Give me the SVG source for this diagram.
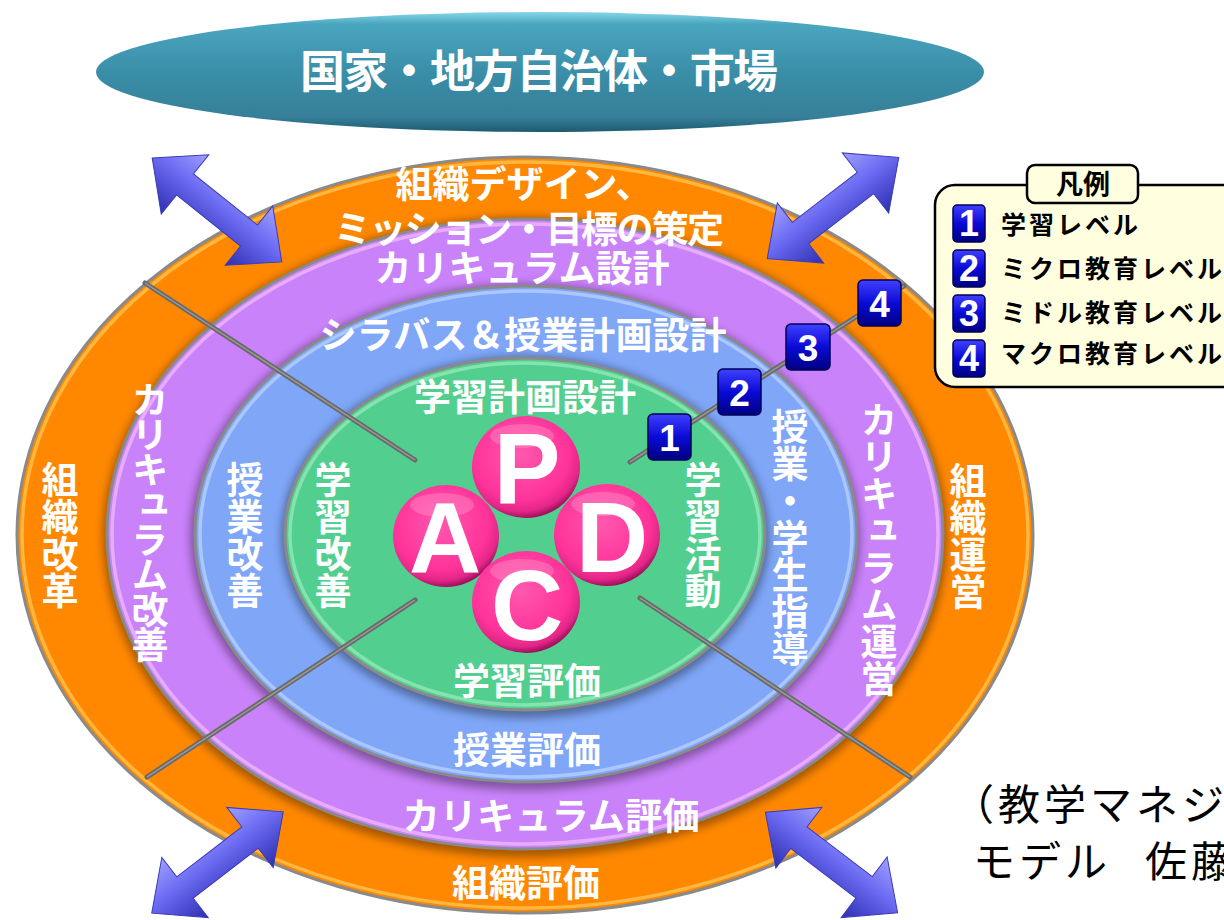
<svg xmlns="http://www.w3.org/2000/svg" width="1224" height="920" viewBox="0 0 1224 920">
<defs>
  <style>
    .lbl{font-family:"Noto Sans CJK JP","Noto Sans",sans-serif;font-weight:700;fill:#ffffff;text-anchor:middle;font-size:37px}
    .vt{font-family:"Noto Sans CJK JP","Noto Sans",sans-serif;font-weight:700;fill:#ffffff;font-size:37px;writing-mode:vertical-rl;text-anchor:start}
    .ring{stroke:#8a8a8a;stroke-width:3}
    .hl{fill:none;stroke-width:3.5;opacity:0.85}
    .shadow{fill:#000;opacity:0.35;filter:url(#blur4)}
    .conn{stroke:#6a6a6a;stroke-width:5;stroke-linecap:round;fill:none}
    .connhl{stroke:#9c9c9c;stroke-width:1.4;fill:none}
    .ball{fill:url(#ball)}
    .letter{font-family:"Liberation Sans",Arial,sans-serif;font-weight:700;font-size:100px;fill:#ffffff;text-anchor:middle}
    .numbox{fill:url(#numG);stroke:#00005a;stroke-width:1.5}
    .num{font-family:"Liberation Sans",Arial,sans-serif;font-weight:700;fill:#ffffff;text-anchor:middle}
    .leg{font-family:"Noto Sans CJK JP","Noto Sans",sans-serif;font-weight:700;font-size:25px;letter-spacing:3px;fill:#000}
    .note{font-family:"Noto Sans CJK JP","Noto Sans",sans-serif;font-weight:400;font-size:42px;letter-spacing:4px;fill:#000}
  </style>
  <linearGradient id="topG" x1="0" y1="0" x2="0" y2="1">
    <stop offset="0" stop-color="#86d6ea"/>
    <stop offset="0.1" stop-color="#4aa6bf"/>
    <stop offset="0.5" stop-color="#3a8ea8"/>
    <stop offset="0.88" stop-color="#367f98"/>
    <stop offset="1" stop-color="#1d5a70"/>
  </linearGradient>
  <radialGradient id="ball" cx="0.45" cy="0.38" r="0.62">
    <stop offset="0" stop-color="#ff58ae"/>
    <stop offset="0.72" stop-color="#ff3399"/>
    <stop offset="0.9" stop-color="#e22687"/>
    <stop offset="1" stop-color="#a0105e"/>
  </radialGradient>
  <linearGradient id="arrG" x1="0" y1="0" x2="0" y2="1">
    <stop offset="0" stop-color="#a0a0ff"/>
    <stop offset="0.45" stop-color="#6a6af2"/>
    <stop offset="1" stop-color="#2e2eb0"/>
  </linearGradient>
  <linearGradient id="numG" x1="0" y1="0" x2="0" y2="1">
    <stop offset="0" stop-color="#4040ff"/>
    <stop offset="0.5" stop-color="#0a0ad6"/>
    <stop offset="1" stop-color="#000080"/>
  </linearGradient>
  <filter id="blur4" x="-10%" y="-10%" width="120%" height="120%"><feGaussianBlur stdDeviation="4"/></filter>
  <polygon id="arrow" points="-83,0 -41,-38 -41,-13.5 41,-13.5 41,-38 83,0 41,38 41,13.5 -41,13.5 -41,38" fill="url(#arrG)" stroke="#3a3ab8" stroke-width="1"/>
</defs>

<!-- top node -->
<g id="node-top">
  <ellipse cx="540" cy="72" rx="444" ry="60" fill="url(#topG)"/>
  <text x="539" y="88" class="lbl" style="font-size:45px" textLength="478" lengthAdjust="spacing">国家・地方自治体・市場</text>
</g>

<!-- rings -->
<g id="ring-org">
  <ellipse cx="525" cy="535" rx="508" ry="378" fill="#ff8800" class="ring"/>
  <ellipse cx="525" cy="535" rx="503" ry="373" class="hl" stroke="#ffc04a"/>
</g>
<g id="ring-curriculum">
  <ellipse cx="525" cy="537" rx="422" ry="320" class="shadow"/>
  <ellipse cx="525" cy="534" rx="418" ry="315" fill="#c982f9" class="ring"/>
  <ellipse cx="525" cy="534" rx="413" ry="310" class="hl" stroke="#ecb4ff"/>
</g>
<g id="ring-class">
  <ellipse cx="525" cy="537" rx="335" ry="253" class="shadow"/>
  <ellipse cx="526" cy="534" rx="331" ry="248" fill="#7fa6f7" class="ring"/>
  <ellipse cx="526" cy="534" rx="326" ry="243" class="hl" stroke="#b4ccff"/>
</g>
<g id="ring-learning">
  <ellipse cx="525" cy="537" rx="244" ry="181" class="shadow"/>
  <ellipse cx="525" cy="534" rx="240" ry="176" fill="#52cf8f" class="ring"/>
  <ellipse cx="525" cy="534" rx="235" ry="171" class="hl" stroke="#8ee6b6"/>
</g>

<!-- connectors -->
<g id="connectors">
  <line x1="145" y1="283" x2="415" y2="460" class="conn"/>
  <line x1="145" y1="283" x2="415" y2="460" class="connhl"/>
  <line x1="415" y1="600" x2="147" y2="777" class="conn"/>
  <line x1="415" y1="600" x2="147" y2="777" class="connhl"/>
  <line x1="640" y1="598" x2="910" y2="777" class="conn"/>
  <line x1="640" y1="598" x2="910" y2="777" class="connhl"/>
  <line x1="630" y1="462" x2="904" y2="286" class="conn"/>
  <line x1="630" y1="462" x2="904" y2="286" class="connhl"/>
  <g id="arrows">
    <use href="#arrow" transform="translate(217,210) rotate(38.7)"/>
    <use href="#arrow" transform="translate(833,208) rotate(-37.6)"/>
    <use href="#arrow" transform="translate(217.5,862.5) rotate(-37.6)"/>
    <use href="#arrow" transform="translate(831.5,862.5) rotate(37.2)"/>
  </g>
</g>

<!-- level markers -->
<g id="level-1"><rect x="648" y="414" width="43" height="46" rx="5" class="numbox"/><text x="669.5" y="451" class="num" font-size="37">1</text></g>
<g id="level-2"><rect x="718" y="369" width="43" height="46" rx="5" class="numbox"/><text x="739.5" y="406" class="num" font-size="37">2</text></g>
<g id="level-3"><rect x="786" y="324" width="44" height="46" rx="5" class="numbox"/><text x="808" y="361" class="num" font-size="37">3</text></g>
<g id="level-4"><rect x="858" y="280" width="43" height="46" rx="5" class="numbox"/><text x="879.5" y="317" class="num" font-size="37">4</text></g>

<!-- PDCA -->
<g id="pdca-P">
  <ellipse cx="526" cy="467" rx="54" ry="51" class="ball"/>
  <ellipse cx="522" cy="436" rx="32" ry="12" fill="#ffffff" opacity="0.18"/>
  <text x="527" y="503" class="letter">P</text>
</g>
<g id="pdca-A">
  <ellipse cx="446" cy="536" rx="53" ry="51" class="ball"/>
  <ellipse cx="442" cy="505" rx="32" ry="12" fill="#ffffff" opacity="0.18"/>
  <text x="445" y="573" class="letter">A</text>
</g>
<g id="pdca-D">
  <ellipse cx="607" cy="535" rx="53" ry="51" class="ball"/>
  <ellipse cx="603" cy="504" rx="32" ry="12" fill="#ffffff" opacity="0.18"/>
  <text x="612" y="572" class="letter">D</text>
</g>
<g id="pdca-C">
  <ellipse cx="526" cy="602" rx="54" ry="51" class="ball"/>
  <ellipse cx="522" cy="571" rx="32" ry="12" fill="#ffffff" opacity="0.18"/>
  <text x="527" y="640" class="letter">C</text>
</g>

<!-- labels -->
<g id="labels-org">
  <text x="524" y="198" class="lbl">組織デザイン、</text>
  <text x="529" y="243" class="lbl" textLength="390" lengthAdjust="spacing">ミッション・目標の策定</text>
  <text x="526" y="897" class="lbl">組織評価</text>
  <text x="60" y="461" class="vt">組織改革</text>
  <text x="968" y="462" class="vt">組織運営</text>
</g>
<g id="labels-curriculum">
  <text x="522" y="282" class="lbl" textLength="295" lengthAdjust="spacingAndGlyphs">カリキュラム設計</text>
  <text x="551" y="830" class="lbl" textLength="297" lengthAdjust="spacingAndGlyphs">カリキュラム評価</text>
  <text x="150" y="381" class="vt" style="letter-spacing:-2px">カリキュラム改善</text>
  <text x="879" y="401" class="vt">カリキュラム運営</text>
</g>
<g id="labels-class">
  <text x="523" y="349" class="lbl" textLength="407" lengthAdjust="spacingAndGlyphs">シラバス＆授業計画設計</text>
  <text x="527" y="764" class="lbl">授業評価</text>
  <text x="245" y="461" class="vt">授業改善</text>
  <text x="790" y="408" class="vt">授業・学生指導</text>
</g>
<g id="labels-learning">
  <text x="525" y="411" class="lbl">学習計画設計</text>
  <text x="527" y="695" class="lbl">学習評価</text>
  <text x="333" y="461" class="vt">学習改善</text>
  <text x="703" y="461" class="vt">学習活動</text>
</g>

<!-- legend -->
<g id="legend">
  <rect x="935" y="185" width="320" height="202" rx="20" fill="#ffffe0" stroke="#000" stroke-width="2.5"/>
  <rect x="1027" y="165" width="111" height="38" rx="8" fill="#ffffe0" stroke="#000" stroke-width="2.5"/>
  <text x="1083" y="194" style="font-family:'Noto Sans CJK JP','Noto Sans',sans-serif;font-weight:700;font-size:27px;text-anchor:middle">凡例</text>
  <rect x="953" y="205" width="32" height="37" rx="4" class="numbox"/><text x="969" y="236" class="num" font-size="36">1</text>
  <rect x="953" y="250" width="32" height="37" rx="4" class="numbox"/><text x="969" y="281" class="num" font-size="36">2</text>
  <rect x="953" y="295" width="32" height="37" rx="4" class="numbox"/><text x="969" y="326" class="num" font-size="36">3</text>
  <rect x="953" y="340" width="32" height="37" rx="4" class="numbox"/><text x="969" y="371" class="num" font-size="36">4</text>
  <text x="1001" y="234" class="leg">学習レベル</text>
  <text x="1001" y="278" class="leg">ミクロ教育レベル</text>
  <text x="1001" y="322" class="leg">ミドル教育レベル</text>
  <text x="1001" y="363" class="leg">マクロ教育レベル</text>
</g>

<!-- note -->
<g id="note">
  <text x="952" y="820" class="note">（教学マネジ</text>
  <text x="973" y="877" class="note">モデル <tspan x="1145">佐藤</tspan></text>
</g>
</svg>
